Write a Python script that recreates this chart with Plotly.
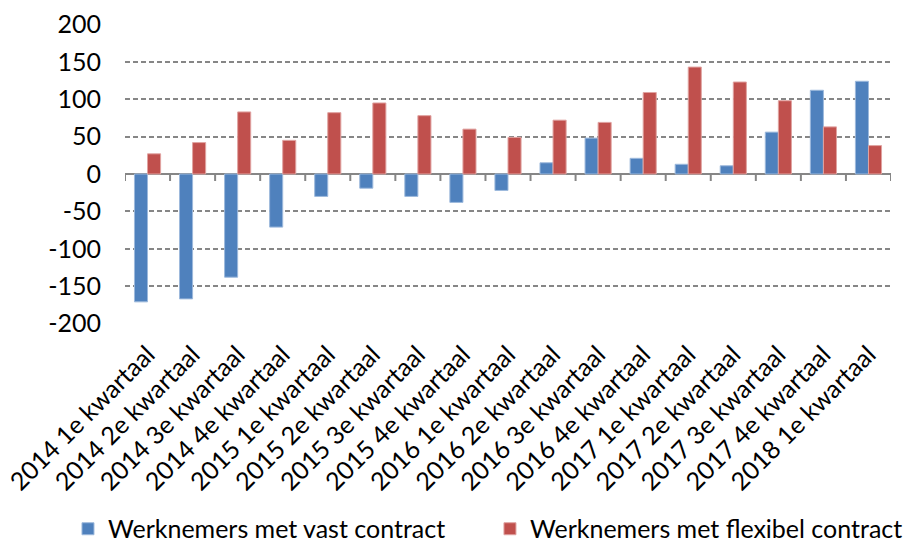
import plotly.graph_objects as go

categories = [
    "2014 1e kwartaal", "2014 2e kwartaal", "2014 3e kwartaal", "2014 4e kwartaal",
    "2015 1e kwartaal", "2015 2e kwartaal", "2015 3e kwartaal", "2015 4e kwartaal",
    "2016 1e kwartaal", "2016 2e kwartaal", "2016 3e kwartaal", "2016 4e kwartaal",
    "2017 1e kwartaal", "2017 2e kwartaal", "2017 3e kwartaal", "2017 4e kwartaal",
    "2018 1e kwartaal",
]
vast = [-171, -167, -138, -71, -30, -19, -30, -38, -22, 15, 48, 21, 13, 11, 56, 112, 124]
flexibel = [27, 42, 83, 45, 82, 95, 78, 60, 49, 72, 69, 109, 143, 123, 98, 63, 38]
y_ticks = [-200, -150, -100, -50, 0, 50, 100, 150, 200]

FONT = "Lato"
FS = 25
GRID = "#868686"

fig = go.Figure()
fig.add_trace(go.Bar(
    x=categories, y=vast, name="Werknemers met vast contract", legend="legend",
    marker=dict(color="#4F81BD", line=dict(color="#9DB9DC", width=1)),
))
fig.add_trace(go.Bar(
    x=categories, y=flexibel, name="Werknemers met flexibel contract", legend="legend2",
    marker=dict(color="#C0504D", line=dict(color="#E0A3A1", width=1)),
))

# tick marks on the zero line at category boundaries
for i in range(len(categories) + 1):
    fig.add_shape(
        type="line", xref="x", yref="y", x0=i - 0.5, x1=i - 0.5,
        ysizemode="pixel", yanchor=0, y0=0, y1=-7,
        line=dict(color=GRID, width=2), layer="above",
    )

legend_common = dict(
    orientation="h", xref="container", yref="container",
    xanchor="left", y=0.024, yanchor="middle",
    font=dict(family=FONT, size=FS, color="black"), itemwidth=30,
    bgcolor="rgba(0,0,0,0)",
)

fig.update_layout(
    width=904, height=542,
    margin=dict(l=125, r=13, t=24, b=218),
    paper_bgcolor="white", plot_bgcolor="white",
    barmode="group", bargap=0.42, bargroupgap=0,
    font=dict(family=FONT, size=FS, color="black"),
    showlegend=True,
    legend=dict(x=0.0752, **legend_common),
    legend2=dict(x=0.542, **legend_common),
    xaxis=dict(
        type="category", range=[-0.5, len(categories) - 0.5],
        tickangle=-45, showline=False, showgrid=False, ticks="",
        ticklabelstandoff=10, ticklabelshift=0, automargin=False,
        tickfont=dict(family=FONT, size=FS, color="black"),
    ),
    yaxis=dict(
        range=[-200.6, 200.6], tickvals=y_ticks, ticktext=[str(v) for v in y_ticks],
        showgrid=True, gridcolor=GRID, gridwidth=1.5, griddash="5px,3px",
        zeroline=True, zerolinecolor=GRID, zerolinewidth=2,
        showline=False, ticks="", ticklabelstandoff=23, automargin=False,
        tickfont=dict(family=FONT, size=FS, color="black"),
    ),
)

fig.write_html(
    "out.html",
    config={"displayModeBar": False},
    post_script="document.body.style.margin='0';document.body.style.overflow='hidden';",
)
